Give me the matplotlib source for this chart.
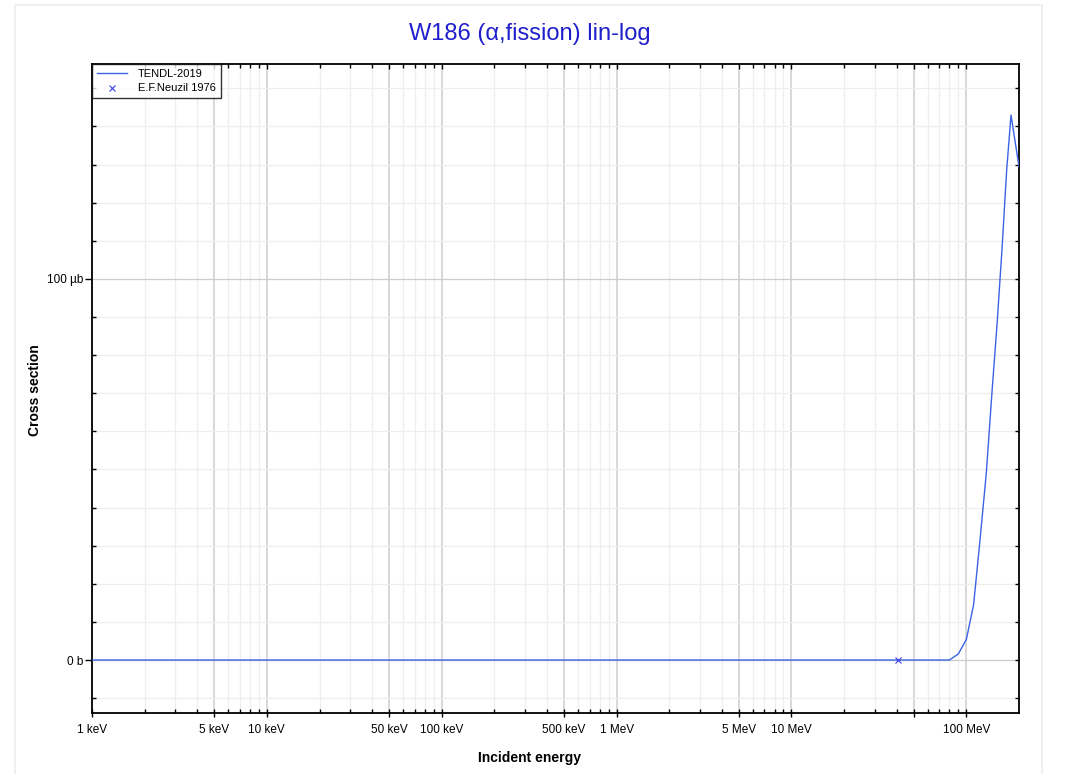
import numpy as np
import matplotlib
matplotlib.use("Agg")
import matplotlib.pyplot as plt
import matplotlib.lines as mlines
from matplotlib.ticker import FixedLocator, FixedFormatter, MultipleLocator, NullFormatter
from matplotlib.patches import Rectangle

plt.rcParams["font.family"] = ["Liberation Sans", "DejaVu Sans"]

# ============================================================
# Data (energy in MeV, cross section in µb)
# ============================================================

tendl_energy = [0.001, 0.01, 0.1, 1, 10, 20, 30, 40, 50, 60, 70, 80,
                90, 100, 110, 120, 130, 140, 150, 160, 170, 180, 200]
tendl_xs = [0, 0, 0, 0, 0, 0, 0, 0, 0, 0, 0, 0,
            1.6, 5.4, 14.5, 32, 49, 70, 88.5, 108, 128.5, 143, 129.5]

neuzil_energy = [40.5]
neuzil_xs = [0.1]

x_major = [0.001, 0.005, 0.01, 0.05, 0.1, 0.5, 1, 5, 10, 50, 100]
x_labels = ["1 keV", "5 keV", "10 keV", "50 keV", "100 keV", "500 keV",
            "1 MeV", "5 MeV", "10 MeV", "", "100 MeV"]
y_major = [0, 100]
y_labels = ["0 b", "100 µb"]

# ============================================================
# Figure
# ============================================================

fig = plt.figure(figsize=(10.67, 7.74), dpi=100)
ax = fig.add_axes([92 / 1067, 1 - 713 / 774, (1019 - 92) / 1067, (713 - 64) / 774])

fig.patches.append(Rectangle((15 / 1067, -0.01), (1042 - 15) / 1067, 1 - 5 / 774 + 0.01,
                             transform=fig.transFigure, fill=False,
                             edgecolor="#eeeeee", linewidth=1.2))

ax.plot(tendl_energy, tendl_xs, color="#3a63e6", linewidth=1.0, label="TENDL-2019", zorder=3)
ax.plot(neuzil_energy, neuzil_xs, linestyle="none", marker="x", markersize=5,
        markeredgewidth=0.8, color="#3a3ae6", label="E.F.Neuzil 1976", zorder=4)

ax.set_xscale("log")
ax.set_xlim(0.001, 200)
ax.set_ylim(-13.9, 156.4)

minor_x = []
for dec in [0.001, 0.01, 0.1, 1, 10, 100]:
    for m in [2, 3, 4, 6, 7, 8, 9]:
        if dec * m < 200:
            minor_x.append(dec * m)

ax.xaxis.set_major_locator(FixedLocator(x_major))
ax.xaxis.set_major_formatter(FixedFormatter(x_labels))
ax.xaxis.set_minor_locator(FixedLocator(minor_x))
ax.xaxis.set_minor_formatter(NullFormatter())

ax.yaxis.set_major_locator(FixedLocator(y_major))
ax.yaxis.set_major_formatter(FixedFormatter(y_labels))
ax.yaxis.set_minor_locator(MultipleLocator(10))

ax.grid(which="major", axis="x", color="#d8d8d8", linewidth=1.4)
ax.grid(which="minor", axis="x", color="#eeeeee", linewidth=0.9)
ax.grid(which="major", axis="y", color="#cccccc", linewidth=0.9)
ax.grid(which="minor", axis="y", color="#eeeeee", linewidth=0.9)
ax.set_axisbelow(True)

ax.tick_params(axis="x", which="major", direction="inout", length=5.5, width=1,
               top=True, labelsize=8.5, pad=5)
ax.tick_params(axis="x", which="minor", direction="in", length=3, width=1, top=True)
ax.tick_params(axis="y", which="major", direction="out", length=5, width=1,
               right=True, labelsize=8.5, pad=1.5)
ax.tick_params(axis="y", which="minor", direction="in", length=3, width=1, right=True)

# top and right edges: ticks pointing inward only
for tick in ax.xaxis.get_major_ticks():
    tick.tick2line.set_marker(mlines.TICKDOWN)
    tick.tick2line.set_markersize(3.5)
for tick in ax.yaxis.get_major_ticks():
    tick.tick2line.set_marker(mlines.TICKLEFT)
    tick.tick2line.set_markersize(3)

for spine in ax.spines.values():
    spine.set_linewidth(1.3)

fig.text(0.497, 1 - 34 / 774, "W186 (α,fission) lin-log", ha="center", va="center",
         fontsize=17, color="#1f1fcc")
fig.text(0.496, 1 - 758 / 774, "Incident energy", ha="center", va="center",
         fontsize=10, fontweight="bold")
fig.text(35 / 1067, 1 - 390 / 774, "Cross section", ha="center", va="center",
         rotation=90, fontsize=10, fontweight="bold")

leg = ax.legend(loc="upper left", bbox_to_anchor=(0, 1), fontsize=8, frameon=True,
                fancybox=False, edgecolor="black", borderaxespad=0, handlelength=2.7,
                borderpad=0.45, labelspacing=0.4, handletextpad=1.0)
leg.get_frame().set_linewidth(1.0)
leg.set_zorder(10)

fig.savefig("out.png", dpi=100, facecolor="white")
